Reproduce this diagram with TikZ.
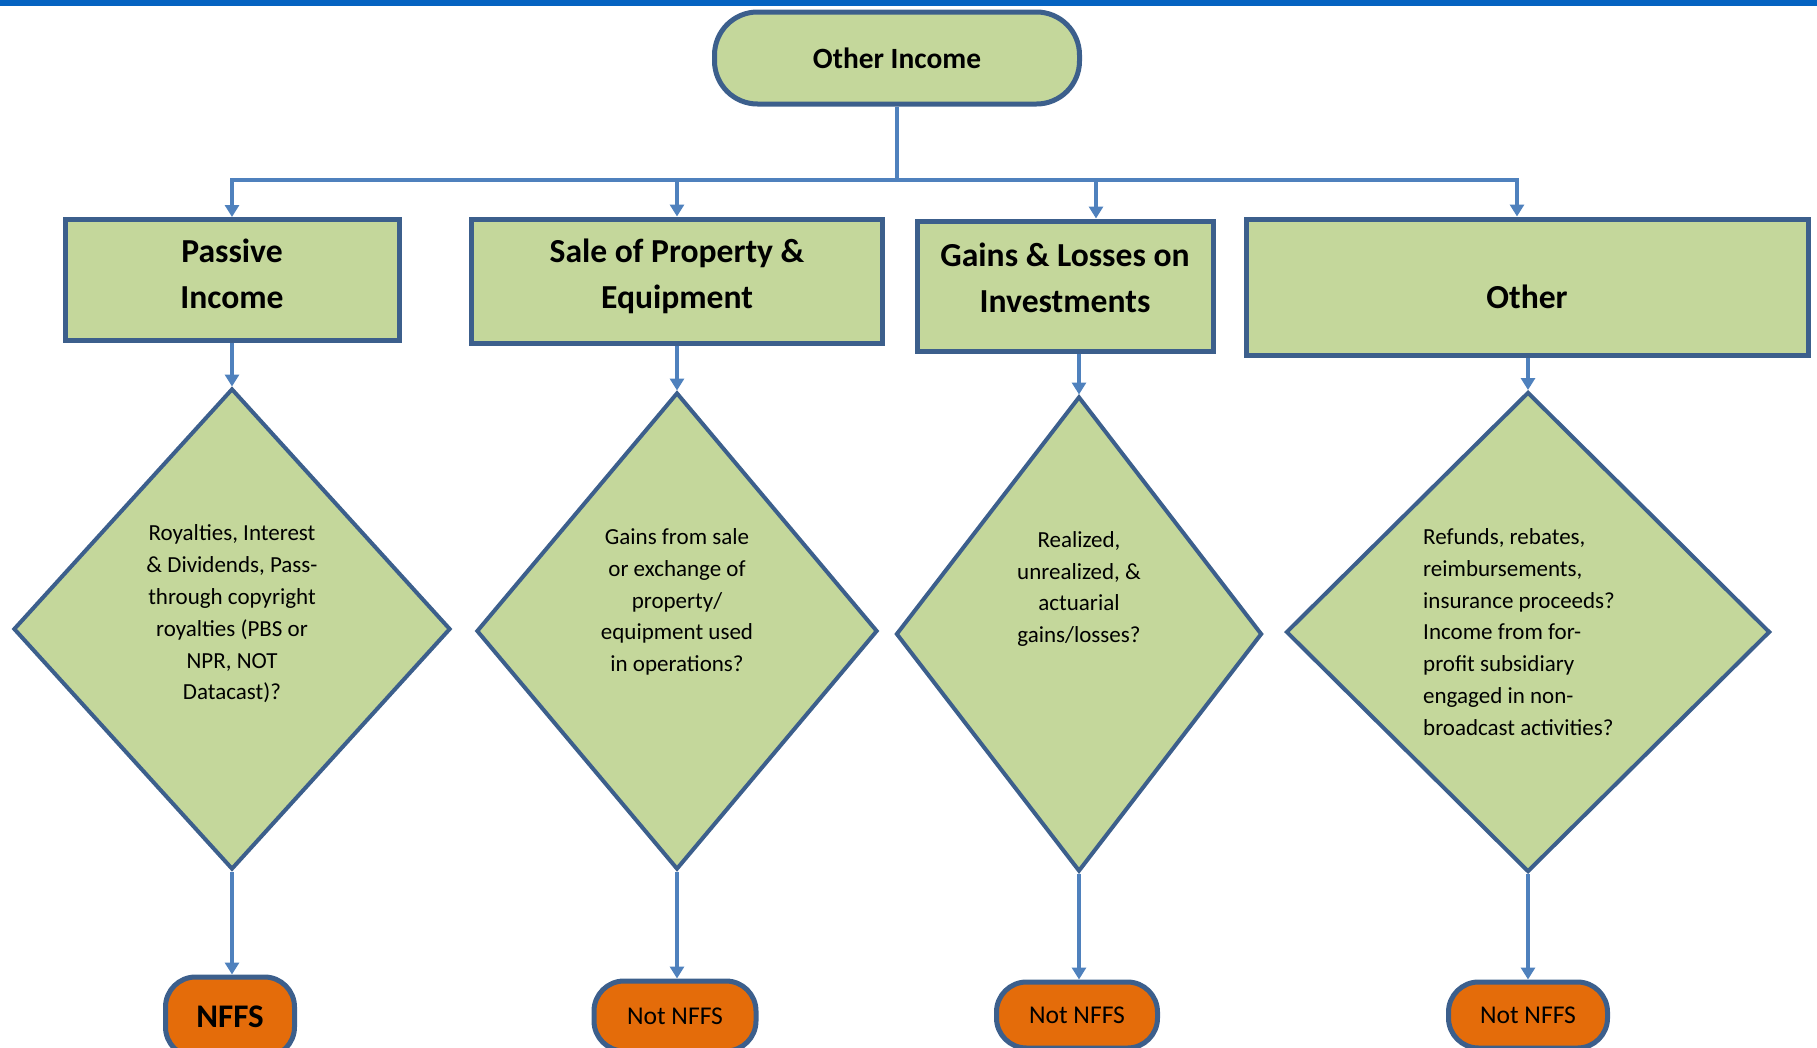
\documentclass[tikz,border=0pt]{standalone}
\usepackage{fontspec}
\setmainfont{Carlito}
\usepackage{xcolor}
\definecolor{flow-green}{HTML}{C4D79B}
\definecolor{flow-frame}{HTML}{3C5F8C}
\definecolor{flow-line}{HTML}{4F81BD}
\definecolor{flow-orange}{HTML}{E46C0A}
\definecolor{flow-bar}{HTML}{0563C1}
\usepackage{tikz}
\usetikzlibrary{shapes.geometric,arrows.meta}

\tikzset{
    start/.style={draw=flow-frame, fill=flow-green, line width=5pt, rounded corners=43pt,
        inner sep=0pt, font=\fontsize{29.4pt}{34pt}\selectfont\bfseries},
    topic/.style={draw=flow-frame, fill=flow-green, line width=5pt, inner sep=0pt},
    caption/.style={inner sep=0pt, align=center, font=\fontsize{33.6pt}{46pt}\selectfont\bfseries},
    decision/.style={diamond, draw=flow-frame, fill=flow-green, line width=4pt, inner sep=0pt},
    question/.style={inner sep=0pt, align=center, font=\fontsize{23pt}{31.8pt}\selectfont},
    terminal/.style={draw=flow-frame, fill=flow-orange, line width=5pt, rounded corners=30pt,
        inner sep=0pt, font=\fontsize{25.6pt}{30pt}\selectfont},
    link/.style={draw=flow-line, line width=4pt},
    flow/.style={link, -{Triangle[width=14pt,length=12pt]}}
}

\begin{document}
\begin{tikzpicture}[x=1pt, y=-1pt]

    % Canvas
    \useasboundingbox (0, 0) rectangle (1817, 1047);
    \fill[flow-bar] (0, 0) rectangle (1817, 6);

    % Root
    \node[start, minimum width=365pt, minimum height=92pt] (root) at (897, 58) {Other Income};

    % Categories
    \node[topic, minimum width=334pt, minimum height=121pt] (passive) at (232, 280) {};
    \node[topic, minimum width=411pt, minimum height=124pt] (sale) at (677, 281) {};
    \node[topic, minimum width=296pt, minimum height=130pt] (gains) at (1065, 286) {};
    \node[topic, minimum width=562pt, minimum height=136pt] (other) at (1527, 287) {};

    \node[caption] (lpassive) at (232, 274) {Passive\\Income};
    \node[caption] (lsale) at (677, 276) {Sale of Property \&\\Equipment};
    \node[caption] (lgains) at (1065, 278) {Gains \& Losses on\\Investments};
    \node[caption] (lother) at (1527, 297) {Other};

    % Questions
    \node[decision, minimum width=437pt, minimum height=481pt] (qpassive) at (232, 629) {};
    \node[decision, minimum width=401pt, minimum height=477pt] (qsale) at (677, 631) {};
    \node[decision, minimum width=366pt, minimum height=475pt] (qgains) at (1079, 634) {};
    \node[decision, minimum width=484pt, minimum height=480pt] (qother) at (1528, 632) {};

    \node[question] (tpassive) at (232, 614) {Royalties, Interest\\\& Dividends, Pass-\\through copyright\\royalties (PBS or\\NPR, NOT\\Datacast)?};
    \node[question] (tsale) at (677, 602) {Gains from sale\\or exchange of\\property/\\equipment used\\in operations?};
    \node[question] (tgains) at (1079, 589) {Realized,\\unrealized, \&\\actuarial\\gains/losses?};
    \node[question, align=left, anchor=west] (tother) at (1423, 632) {Refunds, rebates,\\reimbursements,\\insurance proceeds?\\Income from for-\\profit subsidiary\\engaged in non-\\broadcast activities?};

    % Outcomes
    \node[terminal, minimum width=129pt, minimum height=80pt, font=\fontsize{33pt}{36pt}\selectfont\bfseries] (epassive) at (230, 1017) {NFFS};
    \node[terminal, minimum width=162pt, minimum height=70pt] (esale) at (675, 1016) {Not NFFS};
    \node[terminal, minimum width=161pt, minimum height=66pt] (egains) at (1077, 1015) {Not NFFS};
    \node[terminal, minimum width=159pt, minimum height=66pt] (eother) at (1528, 1015) {Not NFFS};

    % Branches
    \coordinate (hub) at (897, 180);
    \coordinate (jpassive) at (232, 180);
    \coordinate (jsale) at (677, 180);
    \coordinate (jgains) at (1096, 180);
    \coordinate (jother) at (1517, 180);
    \draw[link] (root.south) -- (hub);
    \draw[link, line cap=rect] (jpassive) -- (jother);
    \draw[flow] (jpassive) -- (jpassive |- passive.north);
    \draw[flow] (jsale) -- (jsale |- sale.north);
    \draw[flow] (jgains) -- (jgains |- gains.north);
    \draw[flow] (jother) -- (jother |- other.north);

    % Into questions
    \draw[flow] (passive.south) -- (qpassive.north);
    \draw[flow] (sale.south) -- (qsale.north);
    \draw[flow] (qgains.north |- gains.south) -- (qgains.north);
    \draw[flow] (qother.north |- other.south) -- (qother.north);

    % Into outcomes
    \draw[flow] (qpassive.south) -- (qpassive.south |- epassive.north);
    \draw[flow] (qsale.south) -- (qsale.south |- esale.north);
    \draw[flow] (qgains.south) -- (qgains.south |- egains.north);
    \draw[flow] (qother.south) -- (qother.south |- eother.north);

\end{tikzpicture}
\end{document}
